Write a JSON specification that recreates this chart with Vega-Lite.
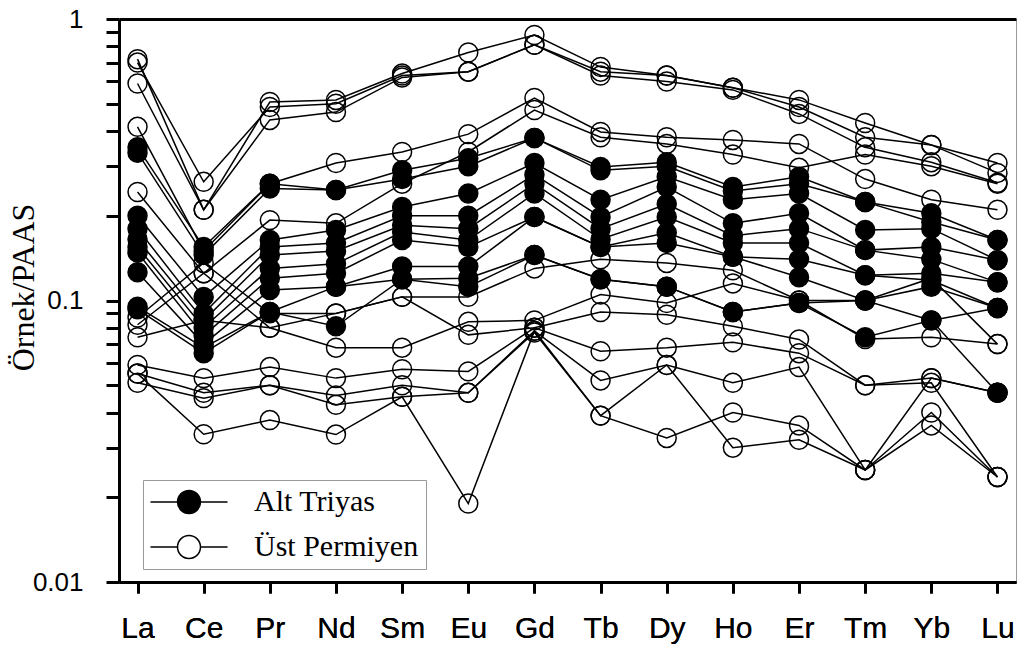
{
"$schema": "https://vega.github.io/schema/vega-lite/v6.json",
"width": 897, "height": 563,
"autosize": {"type": "none"},
"padding": {"left": 119, "top": 19, "right": 1, "bottom": 70},
"background": "white",
"config": {
  "view": {"stroke": "#999", "strokeWidth": 1},
  "axis": {"ticks": true, "tickColor": "black", "tickWidth": 3, "tickOpacity": 1, "domain": true, "domainColor": "black", "domainWidth": 3, "domainOpacity": 1, "grid": false, "labelColor": "black", "zindex": 2},
  "axisX": {"tickSize": 11},
  "axisY": {"tickSize": 13}
},
"data": {"values": [
{"s":"F1","g":"Alt Triyas","e":"La","v":0.35},{"s":"F1","g":"Alt Triyas","e":"Ce","v":0.155},{"s":"F1","g":"Alt Triyas","e":"Pr","v":0.26},{"s":"F1","g":"Alt Triyas","e":"Nd","v":0.247},{"s":"F1","g":"Alt Triyas","e":"Sm","v":0.29},{"s":"F1","g":"Alt Triyas","e":"Eu","v":0.32},{"s":"F1","g":"Alt Triyas","e":"Gd","v":0.378},{"s":"F1","g":"Alt Triyas","e":"Tb","v":0.298},{"s":"F1","g":"Alt Triyas","e":"Dy","v":0.31},{"s":"F1","g":"Alt Triyas","e":"Ho","v":0.253},{"s":"F1","g":"Alt Triyas","e":"Er","v":0.275},{"s":"F1","g":"Alt Triyas","e":"Tm","v":0.224},{"s":"F1","g":"Alt Triyas","e":"Yb","v":0.204},{"s":"F1","g":"Alt Triyas","e":"Lu","v":0.164},
{"s":"F2","g":"Alt Triyas","e":"La","v":0.335},{"s":"F2","g":"Alt Triyas","e":"Ce","v":0.145},{"s":"F2","g":"Alt Triyas","e":"Pr","v":0.25},{"s":"F2","g":"Alt Triyas","e":"Nd","v":0.247},{"s":"F2","g":"Alt Triyas","e":"Sm","v":0.27},{"s":"F2","g":"Alt Triyas","e":"Eu","v":0.30},{"s":"F2","g":"Alt Triyas","e":"Gd","v":0.378},{"s":"F2","g":"Alt Triyas","e":"Tb","v":0.29},{"s":"F2","g":"Alt Triyas","e":"Dy","v":0.3},{"s":"F2","g":"Alt Triyas","e":"Ho","v":0.245},{"s":"F2","g":"Alt Triyas","e":"Er","v":0.26},{"s":"F2","g":"Alt Triyas","e":"Tm","v":0.224},{"s":"F2","g":"Alt Triyas","e":"Yb","v":0.19},{"s":"F2","g":"Alt Triyas","e":"Lu","v":0.164},
{"s":"F3","g":"Alt Triyas","e":"La","v":0.2},{"s":"F3","g":"Alt Triyas","e":"Ce","v":0.103},{"s":"F3","g":"Alt Triyas","e":"Pr","v":0.164},{"s":"F3","g":"Alt Triyas","e":"Nd","v":0.178},{"s":"F3","g":"Alt Triyas","e":"Sm","v":0.215},{"s":"F3","g":"Alt Triyas","e":"Eu","v":0.24},{"s":"F3","g":"Alt Triyas","e":"Gd","v":0.308},{"s":"F3","g":"Alt Triyas","e":"Tb","v":0.228},{"s":"F3","g":"Alt Triyas","e":"Dy","v":0.275},{"s":"F3","g":"Alt Triyas","e":"Ho","v":0.228},{"s":"F3","g":"Alt Triyas","e":"Er","v":0.24},{"s":"F3","g":"Alt Triyas","e":"Tm","v":0.178},{"s":"F3","g":"Alt Triyas","e":"Yb","v":0.18},{"s":"F3","g":"Alt Triyas","e":"Lu","v":0.139},
{"s":"F4","g":"Alt Triyas","e":"La","v":0.18},{"s":"F4","g":"Alt Triyas","e":"Ce","v":0.09},{"s":"F4","g":"Alt Triyas","e":"Pr","v":0.155},{"s":"F4","g":"Alt Triyas","e":"Nd","v":0.16},{"s":"F4","g":"Alt Triyas","e":"Sm","v":0.2},{"s":"F4","g":"Alt Triyas","e":"Eu","v":0.2},{"s":"F4","g":"Alt Triyas","e":"Gd","v":0.28},{"s":"F4","g":"Alt Triyas","e":"Tb","v":0.198},{"s":"F4","g":"Alt Triyas","e":"Dy","v":0.253},{"s":"F4","g":"Alt Triyas","e":"Ho","v":0.188},{"s":"F4","g":"Alt Triyas","e":"Er","v":0.204},{"s":"F4","g":"Alt Triyas","e":"Tm","v":0.151},{"s":"F4","g":"Alt Triyas","e":"Yb","v":0.155},{"s":"F4","g":"Alt Triyas","e":"Lu","v":0.139},
{"s":"F5","g":"Alt Triyas","e":"La","v":0.165},{"s":"F5","g":"Alt Triyas","e":"Ce","v":0.085},{"s":"F5","g":"Alt Triyas","e":"Pr","v":0.145},{"s":"F5","g":"Alt Triyas","e":"Nd","v":0.15},{"s":"F5","g":"Alt Triyas","e":"Sm","v":0.185},{"s":"F5","g":"Alt Triyas","e":"Eu","v":0.18},{"s":"F5","g":"Alt Triyas","e":"Gd","v":0.26},{"s":"F5","g":"Alt Triyas","e":"Tb","v":0.18},{"s":"F5","g":"Alt Triyas","e":"Dy","v":0.22},{"s":"F5","g":"Alt Triyas","e":"Ho","v":0.17},{"s":"F5","g":"Alt Triyas","e":"Er","v":0.18},{"s":"F5","g":"Alt Triyas","e":"Tm","v":0.151},{"s":"F5","g":"Alt Triyas","e":"Yb","v":0.14},{"s":"F5","g":"Alt Triyas","e":"Lu","v":0.116},
{"s":"F6","g":"Alt Triyas","e":"La","v":0.155},{"s":"F6","g":"Alt Triyas","e":"Ce","v":0.08},{"s":"F6","g":"Alt Triyas","e":"Pr","v":0.13},{"s":"F6","g":"Alt Triyas","e":"Nd","v":0.135},{"s":"F6","g":"Alt Triyas","e":"Sm","v":0.175},{"s":"F6","g":"Alt Triyas","e":"Eu","v":0.164},{"s":"F6","g":"Alt Triyas","e":"Gd","v":0.24},{"s":"F6","g":"Alt Triyas","e":"Tb","v":0.165},{"s":"F6","g":"Alt Triyas","e":"Dy","v":0.198},{"s":"F6","g":"Alt Triyas","e":"Ho","v":0.16},{"s":"F6","g":"Alt Triyas","e":"Er","v":0.16},{"s":"F6","g":"Alt Triyas","e":"Tm","v":0.123},{"s":"F6","g":"Alt Triyas","e":"Yb","v":0.125},{"s":"F6","g":"Alt Triyas","e":"Lu","v":0.116},
{"s":"F7","g":"Alt Triyas","e":"La","v":0.148},{"s":"F7","g":"Alt Triyas","e":"Ce","v":0.075},{"s":"F7","g":"Alt Triyas","e":"Pr","v":0.12},{"s":"F7","g":"Alt Triyas","e":"Nd","v":0.125},{"s":"F7","g":"Alt Triyas","e":"Sm","v":0.164},{"s":"F7","g":"Alt Triyas","e":"Eu","v":0.155},{"s":"F7","g":"Alt Triyas","e":"Gd","v":0.198},{"s":"F7","g":"Alt Triyas","e":"Tb","v":0.155},{"s":"F7","g":"Alt Triyas","e":"Dy","v":0.174},{"s":"F7","g":"Alt Triyas","e":"Ho","v":0.143},{"s":"F7","g":"Alt Triyas","e":"Er","v":0.14},{"s":"F7","g":"Alt Triyas","e":"Tm","v":0.123},{"s":"F7","g":"Alt Triyas","e":"Yb","v":0.118},{"s":"F7","g":"Alt Triyas","e":"Lu","v":0.094},
{"s":"F8","g":"Alt Triyas","e":"La","v":0.126},{"s":"F8","g":"Alt Triyas","e":"Ce","v":0.07},{"s":"F8","g":"Alt Triyas","e":"Pr","v":0.109},{"s":"F8","g":"Alt Triyas","e":"Nd","v":0.112},{"s":"F8","g":"Alt Triyas","e":"Sm","v":0.132},{"s":"F8","g":"Alt Triyas","e":"Eu","v":0.132},{"s":"F8","g":"Alt Triyas","e":"Gd","v":0.198},{"s":"F8","g":"Alt Triyas","e":"Tb","v":0.155},{"s":"F8","g":"Alt Triyas","e":"Dy","v":0.16},{"s":"F8","g":"Alt Triyas","e":"Ho","v":0.143},{"s":"F8","g":"Alt Triyas","e":"Er","v":0.121},{"s":"F8","g":"Alt Triyas","e":"Tm","v":0.1},{"s":"F8","g":"Alt Triyas","e":"Yb","v":0.112},{"s":"F8","g":"Alt Triyas","e":"Lu","v":0.094},
{"s":"F9","g":"Alt Triyas","e":"La","v":0.095},{"s":"F9","g":"Alt Triyas","e":"Ce","v":0.068},{"s":"F9","g":"Alt Triyas","e":"Pr","v":0.091},{"s":"F9","g":"Alt Triyas","e":"Nd","v":0.112},{"s":"F9","g":"Alt Triyas","e":"Sm","v":0.119},{"s":"F9","g":"Alt Triyas","e":"Eu","v":0.12},{"s":"F9","g":"Alt Triyas","e":"Gd","v":0.145},{"s":"F9","g":"Alt Triyas","e":"Tb","v":0.119},{"s":"F9","g":"Alt Triyas","e":"Dy","v":0.112},{"s":"F9","g":"Alt Triyas","e":"Ho","v":0.091},{"s":"F9","g":"Alt Triyas","e":"Er","v":0.098},{"s":"F9","g":"Alt Triyas","e":"Tm","v":0.1},{"s":"F9","g":"Alt Triyas","e":"Yb","v":0.085},{"s":"F9","g":"Alt Triyas","e":"Lu","v":0.094},
{"s":"F10","g":"Alt Triyas","e":"La","v":0.093},{"s":"F10","g":"Alt Triyas","e":"Ce","v":0.065},{"s":"F10","g":"Alt Triyas","e":"Pr","v":0.091},{"s":"F10","g":"Alt Triyas","e":"Nd","v":0.081},{"s":"F10","g":"Alt Triyas","e":"Sm","v":0.119},{"s":"F10","g":"Alt Triyas","e":"Eu","v":0.112},{"s":"F10","g":"Alt Triyas","e":"Gd","v":0.145},{"s":"F10","g":"Alt Triyas","e":"Tb","v":0.119},{"s":"F10","g":"Alt Triyas","e":"Dy","v":0.112},{"s":"F10","g":"Alt Triyas","e":"Ho","v":0.091},{"s":"F10","g":"Alt Triyas","e":"Er","v":0.098},{"s":"F10","g":"Alt Triyas","e":"Tm","v":0.074},{"s":"F10","g":"Alt Triyas","e":"Yb","v":0.085},{"s":"F10","g":"Alt Triyas","e":"Lu","v":0.047},
{"s":"T1","g":"Üst Permiyen","e":"La","v":0.72},{"s":"T1","g":"Üst Permiyen","e":"Ce","v":0.21},{"s":"T1","g":"Üst Permiyen","e":"Pr","v":0.507},{"s":"T1","g":"Üst Permiyen","e":"Nd","v":0.516},{"s":"T1","g":"Üst Permiyen","e":"Sm","v":0.64},{"s":"T1","g":"Üst Permiyen","e":"Eu","v":0.76},{"s":"T1","g":"Üst Permiyen","e":"Gd","v":0.877},{"s":"T1","g":"Üst Permiyen","e":"Tb","v":0.675},{"s":"T1","g":"Üst Permiyen","e":"Dy","v":0.63},{"s":"T1","g":"Üst Permiyen","e":"Ho","v":0.57},{"s":"T1","g":"Üst Permiyen","e":"Er","v":0.516},{"s":"T1","g":"Üst Permiyen","e":"Tm","v":0.427},{"s":"T1","g":"Üst Permiyen","e":"Yb","v":0.357},{"s":"T1","g":"Üst Permiyen","e":"Lu","v":0.308},
{"s":"T2","g":"Üst Permiyen","e":"La","v":0.70},{"s":"T2","g":"Üst Permiyen","e":"Ce","v":0.264},{"s":"T2","g":"Üst Permiyen","e":"Pr","v":0.487},{"s":"T2","g":"Üst Permiyen","e":"Nd","v":0.5},{"s":"T2","g":"Üst Permiyen","e":"Sm","v":0.63},{"s":"T2","g":"Üst Permiyen","e":"Eu","v":0.65},{"s":"T2","g":"Üst Permiyen","e":"Gd","v":0.81},{"s":"T2","g":"Üst Permiyen","e":"Tb","v":0.65},{"s":"T2","g":"Üst Permiyen","e":"Dy","v":0.63},{"s":"T2","g":"Üst Permiyen","e":"Ho","v":0.57},{"s":"T2","g":"Üst Permiyen","e":"Er","v":0.487},{"s":"T2","g":"Üst Permiyen","e":"Tm","v":0.38},{"s":"T2","g":"Üst Permiyen","e":"Yb","v":0.357},{"s":"T2","g":"Üst Permiyen","e":"Lu","v":0.284},
{"s":"T3","g":"Üst Permiyen","e":"La","v":0.59},{"s":"T3","g":"Üst Permiyen","e":"Ce","v":0.21},{"s":"T3","g":"Üst Permiyen","e":"Pr","v":0.438},{"s":"T3","g":"Üst Permiyen","e":"Nd","v":0.467},{"s":"T3","g":"Üst Permiyen","e":"Sm","v":0.62},{"s":"T3","g":"Üst Permiyen","e":"Eu","v":0.65},{"s":"T3","g":"Üst Permiyen","e":"Gd","v":0.81},{"s":"T3","g":"Üst Permiyen","e":"Tb","v":0.63},{"s":"T3","g":"Üst Permiyen","e":"Dy","v":0.6},{"s":"T3","g":"Üst Permiyen","e":"Ho","v":0.56},{"s":"T3","g":"Üst Permiyen","e":"Er","v":0.46},{"s":"T3","g":"Üst Permiyen","e":"Tm","v":0.35},{"s":"T3","g":"Üst Permiyen","e":"Yb","v":0.31},{"s":"T3","g":"Üst Permiyen","e":"Lu","v":0.262},
{"s":"M1","g":"Üst Permiyen","e":"La","v":0.414},{"s":"M1","g":"Üst Permiyen","e":"Ce","v":0.15},{"s":"M1","g":"Üst Permiyen","e":"Pr","v":0.26},{"s":"M1","g":"Üst Permiyen","e":"Nd","v":0.308},{"s":"M1","g":"Üst Permiyen","e":"Sm","v":0.337},{"s":"M1","g":"Üst Permiyen","e":"Eu","v":0.39},{"s":"M1","g":"Üst Permiyen","e":"Gd","v":0.524},{"s":"M1","g":"Üst Permiyen","e":"Tb","v":0.397},{"s":"M1","g":"Üst Permiyen","e":"Dy","v":0.38},{"s":"M1","g":"Üst Permiyen","e":"Ho","v":0.372},{"s":"M1","g":"Üst Permiyen","e":"Er","v":0.36},{"s":"M1","g":"Üst Permiyen","e":"Tm","v":0.27},{"s":"M1","g":"Üst Permiyen","e":"Yb","v":0.228},{"s":"M1","g":"Üst Permiyen","e":"Lu","v":0.21},
{"s":"M2","g":"Üst Permiyen","e":"La","v":0.243},{"s":"M2","g":"Üst Permiyen","e":"Ce","v":0.125},{"s":"M2","g":"Üst Permiyen","e":"Pr","v":0.193},{"s":"M2","g":"Üst Permiyen","e":"Nd","v":0.188},{"s":"M2","g":"Üst Permiyen","e":"Sm","v":0.26},{"s":"M2","g":"Üst Permiyen","e":"Eu","v":0.337},{"s":"M2","g":"Üst Permiyen","e":"Gd","v":0.475},{"s":"M2","g":"Üst Permiyen","e":"Tb","v":0.38},{"s":"M2","g":"Üst Permiyen","e":"Dy","v":0.36},{"s":"M2","g":"Üst Permiyen","e":"Ho","v":0.33},{"s":"M2","g":"Üst Permiyen","e":"Er","v":0.296},{"s":"M2","g":"Üst Permiyen","e":"Tm","v":0.33},{"s":"M2","g":"Üst Permiyen","e":"Yb","v":0.3},{"s":"M2","g":"Üst Permiyen","e":"Lu","v":0.26},
{"s":"L1","g":"Üst Permiyen","e":"La","v":0.087},{"s":"L1","g":"Üst Permiyen","e":"Ce","v":0.136},{"s":"L1","g":"Üst Permiyen","e":"Pr","v":0.09},{"s":"L1","g":"Üst Permiyen","e":"Nd","v":0.09},{"s":"L1","g":"Üst Permiyen","e":"Sm","v":0.103},{"s":"L1","g":"Üst Permiyen","e":"Eu","v":0.103},{"s":"L1","g":"Üst Permiyen","e":"Gd","v":0.13},{"s":"L1","g":"Üst Permiyen","e":"Tb","v":0.14},{"s":"L1","g":"Üst Permiyen","e":"Dy","v":0.136},{"s":"L1","g":"Üst Permiyen","e":"Ho","v":0.128},{"s":"L1","g":"Üst Permiyen","e":"Er","v":0.1},{"s":"L1","g":"Üst Permiyen","e":"Tm","v":0.1},{"s":"L1","g":"Üst Permiyen","e":"Yb","v":0.12},{"s":"L1","g":"Üst Permiyen","e":"Lu","v":0.07},
{"s":"L2","g":"Üst Permiyen","e":"La","v":0.082},{"s":"L2","g":"Üst Permiyen","e":"Ce","v":0.125},{"s":"L2","g":"Üst Permiyen","e":"Pr","v":0.08},{"s":"L2","g":"Üst Permiyen","e":"Nd","v":0.068},{"s":"L2","g":"Üst Permiyen","e":"Sm","v":0.068},{"s":"L2","g":"Üst Permiyen","e":"Eu","v":0.084},{"s":"L2","g":"Üst Permiyen","e":"Gd","v":0.085},{"s":"L2","g":"Üst Permiyen","e":"Tb","v":0.105},{"s":"L2","g":"Üst Permiyen","e":"Dy","v":0.098},{"s":"L2","g":"Üst Permiyen","e":"Ho","v":0.115},{"s":"L2","g":"Üst Permiyen","e":"Er","v":0.1},{"s":"L2","g":"Üst Permiyen","e":"Tm","v":0.073},{"s":"L2","g":"Üst Permiyen","e":"Yb","v":0.074},{"s":"L2","g":"Üst Permiyen","e":"Lu","v":0.07},
{"s":"L3","g":"Üst Permiyen","e":"La","v":0.074},{"s":"L3","g":"Üst Permiyen","e":"Ce","v":0.085},{"s":"L3","g":"Üst Permiyen","e":"Pr","v":0.08},{"s":"L3","g":"Üst Permiyen","e":"Nd","v":0.09},{"s":"L3","g":"Üst Permiyen","e":"Sm","v":0.103},{"s":"L3","g":"Üst Permiyen","e":"Eu","v":0.0755},{"s":"L3","g":"Üst Permiyen","e":"Gd","v":0.08},{"s":"L3","g":"Üst Permiyen","e":"Tb","v":0.091},{"s":"L3","g":"Üst Permiyen","e":"Dy","v":0.089},{"s":"L3","g":"Üst Permiyen","e":"Ho","v":0.081},{"s":"L3","g":"Üst Permiyen","e":"Er","v":0.0727},{"s":"L3","g":"Üst Permiyen","e":"Tm","v":0.05},{"s":"L3","g":"Üst Permiyen","e":"Yb","v":0.053},{"s":"L3","g":"Üst Permiyen","e":"Lu","v":0.047},
{"s":"L4","g":"Üst Permiyen","e":"La","v":0.059},{"s":"L4","g":"Üst Permiyen","e":"Ce","v":0.053},{"s":"L4","g":"Üst Permiyen","e":"Pr","v":0.058},{"s":"L4","g":"Üst Permiyen","e":"Nd","v":0.053},{"s":"L4","g":"Üst Permiyen","e":"Sm","v":0.057},{"s":"L4","g":"Üst Permiyen","e":"Eu","v":0.056},{"s":"L4","g":"Üst Permiyen","e":"Gd","v":0.08},{"s":"L4","g":"Üst Permiyen","e":"Tb","v":0.066},{"s":"L4","g":"Üst Permiyen","e":"Dy","v":0.068},{"s":"L4","g":"Üst Permiyen","e":"Ho","v":0.071},{"s":"L4","g":"Üst Permiyen","e":"Er","v":0.065},{"s":"L4","g":"Üst Permiyen","e":"Tm","v":0.05},{"s":"L4","g":"Üst Permiyen","e":"Yb","v":0.051},{"s":"L4","g":"Üst Permiyen","e":"Lu","v":0.0236},
{"s":"L5","g":"Üst Permiyen","e":"La","v":0.055},{"s":"L5","g":"Üst Permiyen","e":"Ce","v":0.047},{"s":"L5","g":"Üst Permiyen","e":"Pr","v":0.05},{"s":"L5","g":"Üst Permiyen","e":"Nd","v":0.046},{"s":"L5","g":"Üst Permiyen","e":"Sm","v":0.05},{"s":"L5","g":"Üst Permiyen","e":"Eu","v":0.047},{"s":"L5","g":"Üst Permiyen","e":"Gd","v":0.078},{"s":"L5","g":"Üst Permiyen","e":"Tb","v":0.052},{"s":"L5","g":"Üst Permiyen","e":"Dy","v":0.059},{"s":"L5","g":"Üst Permiyen","e":"Ho","v":0.051},{"s":"L5","g":"Üst Permiyen","e":"Er","v":0.058},{"s":"L5","g":"Üst Permiyen","e":"Tm","v":0.025},{"s":"L5","g":"Üst Permiyen","e":"Yb","v":0.04},{"s":"L5","g":"Üst Permiyen","e":"Lu","v":0.0236},
{"s":"L6","g":"Üst Permiyen","e":"La","v":0.051},{"s":"L6","g":"Üst Permiyen","e":"Ce","v":0.045},{"s":"L6","g":"Üst Permiyen","e":"Pr","v":0.05},{"s":"L6","g":"Üst Permiyen","e":"Nd","v":0.0426},{"s":"L6","g":"Üst Permiyen","e":"Sm","v":0.0455},{"s":"L6","g":"Üst Permiyen","e":"Eu","v":0.047},{"s":"L6","g":"Üst Permiyen","e":"Gd","v":0.077},{"s":"L6","g":"Üst Permiyen","e":"Tb","v":0.039},{"s":"L6","g":"Üst Permiyen","e":"Dy","v":0.0325},{"s":"L6","g":"Üst Permiyen","e":"Ho","v":0.04},{"s":"L6","g":"Üst Permiyen","e":"Er","v":0.036},{"s":"L6","g":"Üst Permiyen","e":"Tm","v":0.025},{"s":"L6","g":"Üst Permiyen","e":"Yb","v":0.036},{"s":"L6","g":"Üst Permiyen","e":"Lu","v":0.0236},
{"s":"L7","g":"Üst Permiyen","e":"La","v":0.055},{"s":"L7","g":"Üst Permiyen","e":"Ce","v":0.0335},{"s":"L7","g":"Üst Permiyen","e":"Pr","v":0.0376},{"s":"L7","g":"Üst Permiyen","e":"Nd","v":0.0334},{"s":"L7","g":"Üst Permiyen","e":"Sm","v":0.0455},{"s":"L7","g":"Üst Permiyen","e":"Eu","v":0.019},{"s":"L7","g":"Üst Permiyen","e":"Gd","v":0.078},{"s":"L7","g":"Üst Permiyen","e":"Tb","v":0.039},{"s":"L7","g":"Üst Permiyen","e":"Dy","v":0.059},{"s":"L7","g":"Üst Permiyen","e":"Ho","v":0.03},{"s":"L7","g":"Üst Permiyen","e":"Er","v":0.032},{"s":"L7","g":"Üst Permiyen","e":"Tm","v":0.025},{"s":"L7","g":"Üst Permiyen","e":"Yb","v":0.053},{"s":"L7","g":"Üst Permiyen","e":"Lu","v":0.047}
]},
"encoding": {
  "x": {"field": "e", "type": "ordinal", "sort": ["La","Ce","Pr","Nd","Sm","Eu","Gd","Tb","Dy","Ho","Er","Tm","Yb","Lu"], "scale": {"type": "point", "padding": 0.28},
   "axis": {"orient": "bottom", "title": null, "labelFont": "Liberation Sans", "labelFontSize": 30, "labelAngle": 0, "labelPadding": 20,
    "encode": {"ticks": {"update": {"stroke": {"value": "black"}, "strokeWidth": {"value": 3}, "strokeOpacity": {"value": 1}}}, "domain": {"update": {"stroke": {"value": "black"}, "strokeWidth": {"value": 3}, "strokeOpacity": {"value": 1}}}}}},
  "y": {"field": "v", "type": "quantitative", "scale": {"type": "log", "domain": [0.01, 1], "nice": false},
   "axis": {"title": "Örnek/PAAS", "titleFont": "Liberation Serif", "titleFontSize": 32, "titleFontWeight": "normal", "titleColor": "black", "titleX": -96, "titleY": 268, "titleAngle": 270, "titleAlign": "center", "titleBaseline": "middle",
    "values": [0.01,0.02,0.03,0.04,0.05,0.06,0.07,0.08,0.09,0.1,0.2,0.3,0.4,0.5,0.6,0.7,0.8,0.9,1],
    "labelExpr": "datum.value == 1 ? '1' : datum.value == 0.1 ? '0.1' : datum.value == 0.01 ? '0.01' : ''",
    "labelOverlap": false, "labelBound": false, "labelFlush": false,
    "labelFont": "Liberation Sans", "labelFontSize": 26, "labelPadding": 23,
    "encode": {"ticks": {"update": {"stroke": {"value": "black"}, "strokeWidth": {"value": 3}, "strokeOpacity": {"value": 1}, "x2": {"signal": "(datum.value == 1 || datum.value == 0.1 || datum.value == 0.01) ? -13 : -8"}}}, "domain": {"update": {"stroke": {"value": "black"}, "strokeWidth": {"value": 3}, "strokeOpacity": {"value": 1}}}}}}
},
"layer": [
{"mark": {"type": "line", "color": "black", "strokeWidth": 1.5},
 "encoding": {"detail": {"field": "s", "type": "nominal"}}},
{"mark": {"type": "point", "shape": "circle", "filled": true, "size": 360, "stroke": "black", "strokeWidth": 1.5, "opacity": 1},
 "encoding": {
  "fill": {"field": "g", "type": "nominal", "scale": {"domain": ["Alt Triyas", "Üst Permiyen"], "range": ["black", "transparent"]},
   "legend": {"orient": "none", "legendX": 24, "legendY": 461, "title": null,
    "symbolType": "M-3.35,0H-1M1,0H3.35M1,0A1,1,0,1,1,-1,0A1,1,0,1,1,1,0",
    "symbolSize": 529, "symbolStrokeColor": "black", "symbolStrokeWidth": 1.5, "symbolOffset": 24,
    "labelOffset": 50, "labelLimit": 400, "labelFont": "Liberation Serif", "labelFontSize": 30, "labelColor": "black",
    "padding": 7, "rowPadding": 15, "strokeColor": "#999", "fillColor": "white"}}
 }},
{"mark": {"type": "point", "opacity": 0},
 "encoding": {
  "x": {"field": "e", "type": "ordinal", "sort": ["La","Ce","Pr","Nd","Sm","Eu","Gd","Tb","Dy","Ho","Er","Tm","Yb","Lu"],
   "axis": {"orient": "top", "title": null, "labels": false, "ticks": false, "grid": false, "domain": true,
    "encode": {"domain": {"update": {"stroke": {"value": "black"}, "strokeWidth": {"value": 3}, "strokeOpacity": {"value": 1}}}}}}
 }}
]
}
